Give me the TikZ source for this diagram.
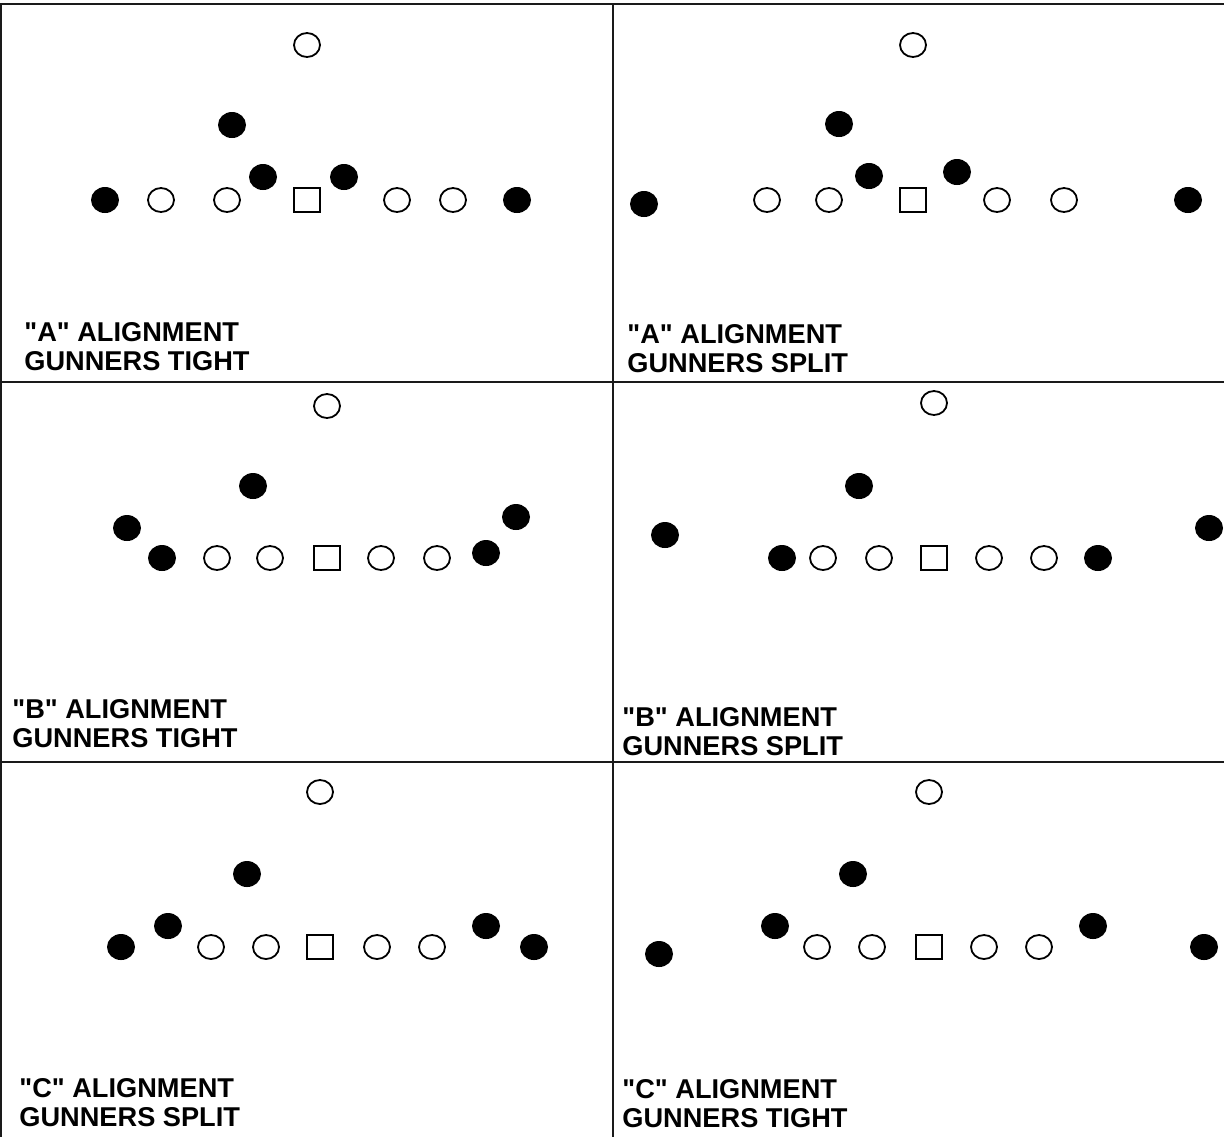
\documentclass[tikz,border=0pt]{standalone}
\usepackage{fontspec}
\setmainfont{Liberation Sans}
\usetikzlibrary{shapes.geometric}
\definecolor{inkc}{HTML}{000000}
\definecolor{gridc}{HTML}{1A1A1A}

\tikzset{
  openp/.style={ellipse, draw=inkc, line width=0.9pt, minimum width=13pt, minimum height=12pt, inner sep=0pt},
  defp/.style={ellipse, fill=inkc, minimum width=14pt, minimum height=13pt, inner sep=0pt},
  snap/.style={rectangle, draw=inkc, line width=0.9pt, minimum width=13pt, minimum height=12pt, inner sep=0pt},
  captxt/.style={anchor=north west, inner sep=0pt, align=left, font=\fontsize{13.6}{14.75}\selectfont\bfseries}
}

\begin{document}
\begin{tikzpicture}[x=0.5pt, y=-0.5pt]
  \useasboundingbox (0,0) rectangle (1224,1137);
  % frame and grid
  \draw[gridc, line width=1pt] (0,4) -- (1224,4);
  \draw[gridc, line width=1pt] (1,4) -- (1,1137);
  \draw[gridc, line width=0.8pt] (613,4) -- (613,1137);
  \draw[gridc, line width=0.8pt] (0,382) -- (1224,382);
  \draw[gridc, line width=0.8pt] (0,762) -- (1224,762);

  % "A" tight
  \node[openp] (a-top) at (307,45) {};
  \node[defp] (a-lb) at (232,125) {};
  \node[defp] (a-d1) at (263,177) {};
  \node[defp] (a-d2) at (344,177) {};
  \node[defp] (a-gl) at (105,200) {};
  \node[defp] (a-gr) at (517,200) {};
  \node[snap] (a-c) at (307,200) {};
  \foreach \x [count=\i] in {161,227,397,453}
    \node[openp] (a-o\i) at (\x,200) {};
  \node[captxt] (a-txt) at (24,322) {\textquotedbl A\textquotedbl{} ALIGNMENT\\GUNNERS TIGHT};

  % "A" split
  \node[openp] (b-top) at (913,45) {};
  \node[defp] (b-lb) at (839,124) {};
  \node[defp] (b-d1) at (869,176) {};
  \node[defp] (b-d2) at (957,172) {};
  \node[defp] (b-gl) at (644,204) {};
  \node[defp] (b-gr) at (1188,200) {};
  \node[snap] (b-c) at (913,200) {};
  \foreach \x [count=\i] in {767,829,997,1064}
    \node[openp] (b-o\i) at (\x,200) {};
  \node[captxt] (b-txt) at (627,324) {\textquotedbl A\textquotedbl{} ALIGNMENT\\GUNNERS SPLIT};

  % "B" tight
  \node[openp] (c-top) at (327,406) {};
  \node[defp] (c-lb) at (253,486) {};
  \node[defp] (c-gl) at (127,528) {};
  \node[defp] (c-el) at (162,558) {};
  \node[defp] (c-er) at (486,553) {};
  \node[defp] (c-gr) at (516,517) {};
  \node[snap] (c-c) at (327,558) {};
  \foreach \x [count=\i] in {217,270,381,437}
    \node[openp] (c-o\i) at (\x,558) {};
  \node[captxt] (c-txt) at (12,699) {\textquotedbl B\textquotedbl{} ALIGNMENT\\GUNNERS TIGHT};

  % "B" split
  \node[openp] (d-top) at (934,403) {};
  \node[defp] (d-lb) at (859,486) {};
  \node[defp] (d-gl) at (665,535) {};
  \node[defp] (d-el) at (782,558) {};
  \node[defp] (d-er) at (1098,558) {};
  \node[defp] (d-gr) at (1209,528) {};
  \node[snap] (d-c) at (934,558) {};
  \foreach \x [count=\i] in {823,879,989,1044}
    \node[openp] (d-o\i) at (\x,558) {};
  \node[captxt] (d-txt) at (622,707) {\textquotedbl B\textquotedbl{} ALIGNMENT\\GUNNERS SPLIT};

  % "C" split
  \node[openp] (e-top) at (320,792) {};
  \node[defp] (e-lb) at (247,874) {};
  \node[defp] (e-gl) at (121,947) {};
  \node[defp] (e-el) at (168,926) {};
  \node[defp] (e-er) at (486,926) {};
  \node[defp] (e-gr) at (534,947) {};
  \node[snap] (e-c) at (320,947) {};
  \foreach \x [count=\i] in {211,266,377,432}
    \node[openp] (e-o\i) at (\x,947) {};
  \node[captxt] (e-txt) at (19,1078) {\textquotedbl C\textquotedbl{} ALIGNMENT\\GUNNERS SPLIT};

  % "C" tight
  \node[openp] (f-top) at (929,792) {};
  \node[defp] (f-lb) at (853,874) {};
  \node[defp] (f-gl) at (659,954) {};
  \node[defp] (f-el) at (775,926) {};
  \node[defp] (f-er) at (1093,926) {};
  \node[defp] (f-gr) at (1204,947) {};
  \node[snap] (f-c) at (929,947) {};
  \foreach \x [count=\i] in {817,872,984,1039}
    \node[openp] (f-o\i) at (\x,947) {};
  \node[captxt] (f-txt) at (622,1079) {\textquotedbl C\textquotedbl{} ALIGNMENT\\GUNNERS TIGHT};
\end{tikzpicture}
\end{document}
